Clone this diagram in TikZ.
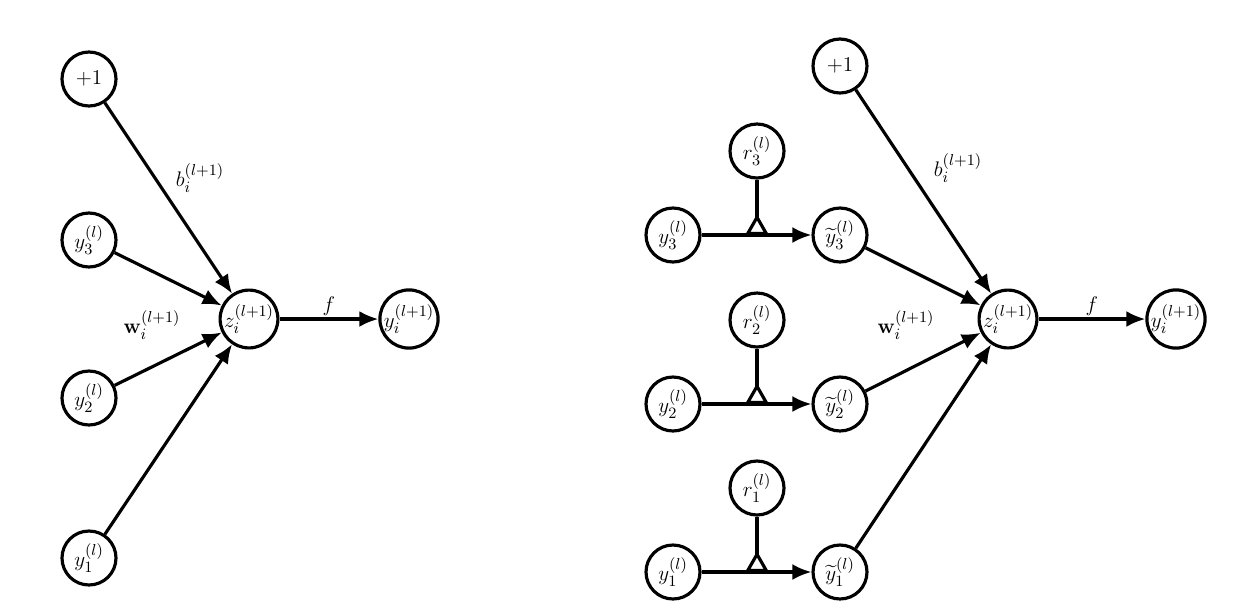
\documentclass[tikz,border=0pt]{standalone}
\usepackage{amsmath}
\usepackage{tikz}
\usetikzlibrary{positioning,arrows.meta}

\begin{document}
\begin{tikzpicture}[
    x=0.02cm, y=-0.02cm,
    font=\fontsize{13}{15}\selectfont,
    unit/.style={draw, circle, line width=1.8pt, minimum size=1.08cm, inner sep=0pt},
    arr/.style={-{Latex[length=0.38cm,width=0.32cm]}, line width=1.8pt},
    junc/.style={-{Triangle[open,reversed,length=0.42cm,width=0.46cm,fill=white]}, line width=1.8pt},
    lbl/.style={inner sep=1pt},
  ]
    \useasboundingbox (0,0) rectangle (1237,606);

    % ---- plain network (left) ----
    \node[unit] (bias)  at (89,79)   {$+1$};
    \node[unit] (ya3)   at (89,240)  {$y_3^{(l)}$};
    \node[unit] (ya2)   at (89,398)  {$y_2^{(l)}$};
    \node[unit] (ya1)   at (89,558)  {$y_1^{(l)}$};
    \node[unit] (za)    at (249,319) {$z_i^{(l+1)}$};
    \node[unit] (outa)  at (409,319) {$y_i^{(l+1)}$};

    \draw[arr] (bias) -- (za);
    \draw[arr] (ya3)  -- (za);
    \draw[arr] (ya2)  -- (za);
    \draw[arr] (ya1)  -- (za);
    \draw[arr] (za)   -- node[above, lbl] {$f$} (outa);

    \node[lbl] at (200,178) {$b_i^{(l+1)}$};
    \node[lbl] at (152,325) {$\mathbf{w}_i^{(l+1)}$};

    % ---- dropout network (right) ----
    \node[unit] (biasb) at (840,66)   {$+1$};
    \node[unit] (zb)    at (1008,319) {$z_i^{(l+1)}$};
    \node[unit] (outb)  at (1176,319) {$y_i^{(l+1)}$};

    \foreach \k/\yy in {3/235, 2/404, 1/572} {
      \node[unit] (yb\k) at (673,\yy)    {$y_\k^{(l)}$};
      \node[unit] (yt\k) at (840,\yy)    {$\widetilde{y}_\k^{(l)}$};
      \node[unit] (r\k)  at (757,\yy-84) {$r_\k^{(l)}$};
      \coordinate (j\k) at (757,\yy);
      \draw[arr]  (yb\k) -- (yt\k);
      \draw[junc] (r\k)  -- (j\k);
      \draw[arr]  (yt\k) -- (zb);
    }

    \draw[arr] (biasb) -- (zb);
    \draw[arr] (zb) -- node[above, lbl] {$f$} (outb);

    \node[lbl] at (958,168) {$b_i^{(l+1)}$};
    \node[lbl] at (906,325) {$\mathbf{w}_i^{(l+1)}$};
  \end{tikzpicture}
\end{document}
